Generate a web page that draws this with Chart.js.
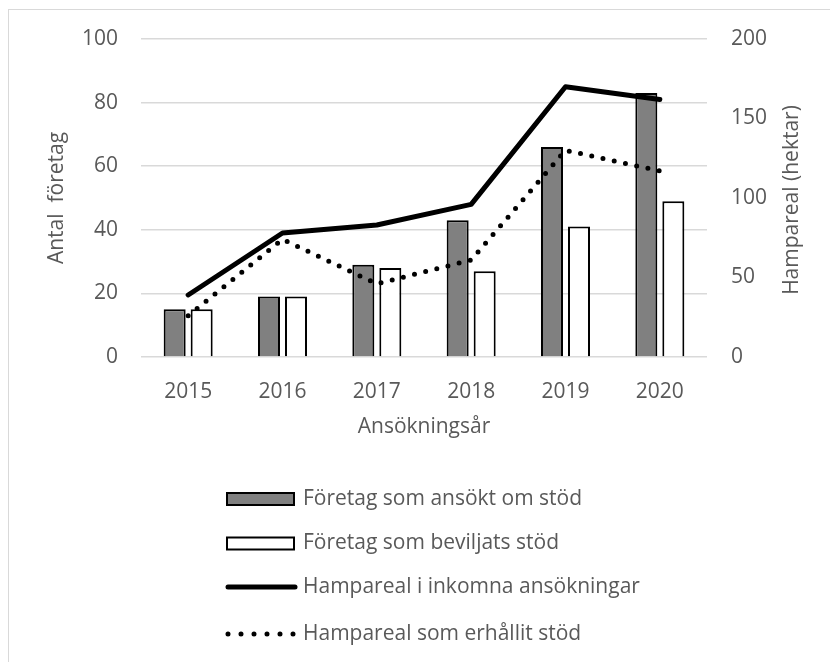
<!DOCTYPE html>
<html>
<head>
<meta charset="utf-8">
<script src="https://cdn.jsdelivr.net/npm/chart.js@4.4.1/dist/chart.umd.min.js"></script>
<style>
  html, body { margin: 0; padding: 0; background: #fff; }
  #wrap { position: relative; width: 830px; height: 662px; overflow: hidden; }
  #frame { position: absolute; left: 8px; top: 9px; width: 900px; height: 900px;
           border: 1px solid #d9d9d9; pointer-events: none; }
  canvas { position: absolute; left: 0; top: 0; }
</style>
</head>
<body>
<div id="wrap">
  <canvas id="chart" width="830" height="662"></canvas>
  <div id="frame"></div>
</div>
<script>
// ---- data ----
const years = ['2015', '2016', '2017', '2018', '2019', '2020'];
const appliedCompanies = [15, 19, 29, 43, 66, 83];
const grantedCompanies = [15, 19, 28, 27, 41, 49];
const areaApplied = [39, 78, 83, 96, 170, 162];
const areaGranted = [26, 74, 46, 61, 130, 117];

const leftTicks = [0, 20, 40, 60, 80, 100];
const rightTicks = [0, 50, 100, 150, 200];

const seriesNames = [
  'Företag som ansökt om stöd',
  'Företag som beviljats stöd',
  'Hampareal i inkomna ansökningar',
  'Hampareal som erhållit stöd'
];
const xTitle = 'Ansökningsår';
const leftTitle = 'Antal  företag';
const rightTitle = 'Hampareal (hektar)';

const textColor = '#595959';
const gridColor = '#d9d9d9';
const fontFamily = "'Open Sans', sans-serif";
const fontSize = 21;

Chart.defaults.font.family = fontFamily;
Chart.defaults.font.size = fontSize;
Chart.defaults.color = textColor;

// right axis title (reads bottom to top) and the stacked legend underneath
const extras = {
  id: 'extras',
  afterDraw(chart) {
    const ctx = chart.ctx;
    const area = chart.chartArea;

    ctx.save();
    ctx.font = fontSize + 'px ' + fontFamily;
    ctx.fillStyle = textColor;
    ctx.textAlign = 'center';
    ctx.textBaseline = 'middle';
    ctx.translate(792, (area.top + area.bottom) / 2 + 2);
    ctx.rotate(-Math.PI / 2);
    ctx.fillText(rightTitle, 0, 0);
    ctx.restore();

    const rowY = [499, 543.5, 587, 634];
    const symLeft = 226, symRight = 295, textX = 303;
    chart.data.datasets.forEach((ds, i) => {
      const y = rowY[i];
      ctx.save();
      if (ds.type === 'line') {
        ctx.strokeStyle = ds.borderColor;
        ctx.lineWidth = ds.borderWidth;
        ctx.lineCap = 'round';
        if (ds.borderDash) ctx.setLineDash([0, 13]);
        ctx.beginPath();
        ctx.moveTo(symLeft + 2, y);
        ctx.lineTo(symRight, y);
        ctx.stroke();
      } else {
        ctx.fillStyle = ds.backgroundColor;
        ctx.fillRect(symLeft, y - 7, symRight - symLeft, 14);
        ctx.strokeStyle = ds.borderColor;
        ctx.lineWidth = 2;
        ctx.strokeRect(symLeft + 1, y - 6, symRight - symLeft - 2, 12);
      }
      ctx.restore();

      ctx.save();
      ctx.font = fontSize + 'px ' + fontFamily;
      ctx.fillStyle = textColor;
      ctx.textAlign = 'left';
      ctx.textBaseline = 'middle';
      ctx.fillText(ds.label, textX, y);
      ctx.restore();
    });
  }
};

new Chart(document.getElementById('chart'), {
  data: {
    labels: years,
    datasets: [
      {
        type: 'bar',
        label: seriesNames[0],
        data: appliedCompanies,
        yAxisID: 'y',
        backgroundColor: '#808080',
        borderColor: '#000000',
        borderWidth: 2,
        categoryPercentage: 0.5725,
        barPercentage: 0.815,
        order: 1
      },
      {
        type: 'bar',
        label: seriesNames[1],
        data: grantedCompanies,
        yAxisID: 'y',
        backgroundColor: '#ffffff',
        borderColor: '#000000',
        borderWidth: 2,
        categoryPercentage: 0.5725,
        barPercentage: 0.815,
        order: 1
      },
      {
        type: 'line',
        label: seriesNames[2],
        data: areaApplied,
        yAxisID: 'y1',
        borderColor: '#000000',
        borderWidth: 5,
        borderCapStyle: 'round',
        borderJoinStyle: 'round',
        pointRadius: 0,
        tension: 0,
        fill: false,
        order: 0
      },
      {
        type: 'line',
        label: seriesNames[3],
        data: areaGranted,
        yAxisID: 'y1',
        borderColor: '#000000',
        borderWidth: 5,
        borderDash: [0, 11.5],
        borderCapStyle: 'round',
        pointRadius: 0,
        tension: 0,
        fill: false,
        order: 0
      }
    ]
  },
  options: {
    responsive: false,
    animation: false,
    layout: { padding: { top: 39, left: 0, right: 0, bottom: 222 } },
    plugins: {
      legend: { display: false },
      tooltip: { enabled: false }
    },
    scales: {
      x: {
        grid: { display: false },
        border: { display: false },
        ticks: { padding: 14, color: textColor },
        title: { display: true, text: xTitle, color: textColor, padding: { top: 0, bottom: 0 } },
        afterFit: (scale) => { scale.height = 83; }
      },
      y: {
        position: 'left',
        min: 0,
        max: 100,
        afterBuildTicks: (scale) => { scale.ticks = leftTicks.map(v => ({ value: v })); },
        grid: { color: gridColor, lineWidth: 1.5, drawTicks: false },
        border: { display: false },
        ticks: { padding: 23, color: textColor },
        title: { display: true, text: leftTitle, color: textColor, padding: { top: 44, bottom: 0 } },
        afterFit: (scale) => { scale.width = 141; }
      },
      y1: {
        position: 'right',
        min: 0,
        max: 200,
        afterBuildTicks: (scale) => { scale.ticks = rightTicks.map(v => ({ value: v })); },
        grid: { display: false, drawTicks: false },
        border: { display: false },
        ticks: { padding: 24, color: textColor },
        afterFit: (scale) => { scale.width = 123; }
      }
    }
  },
  plugins: [extras]
});
</script>
</body>
</html>
